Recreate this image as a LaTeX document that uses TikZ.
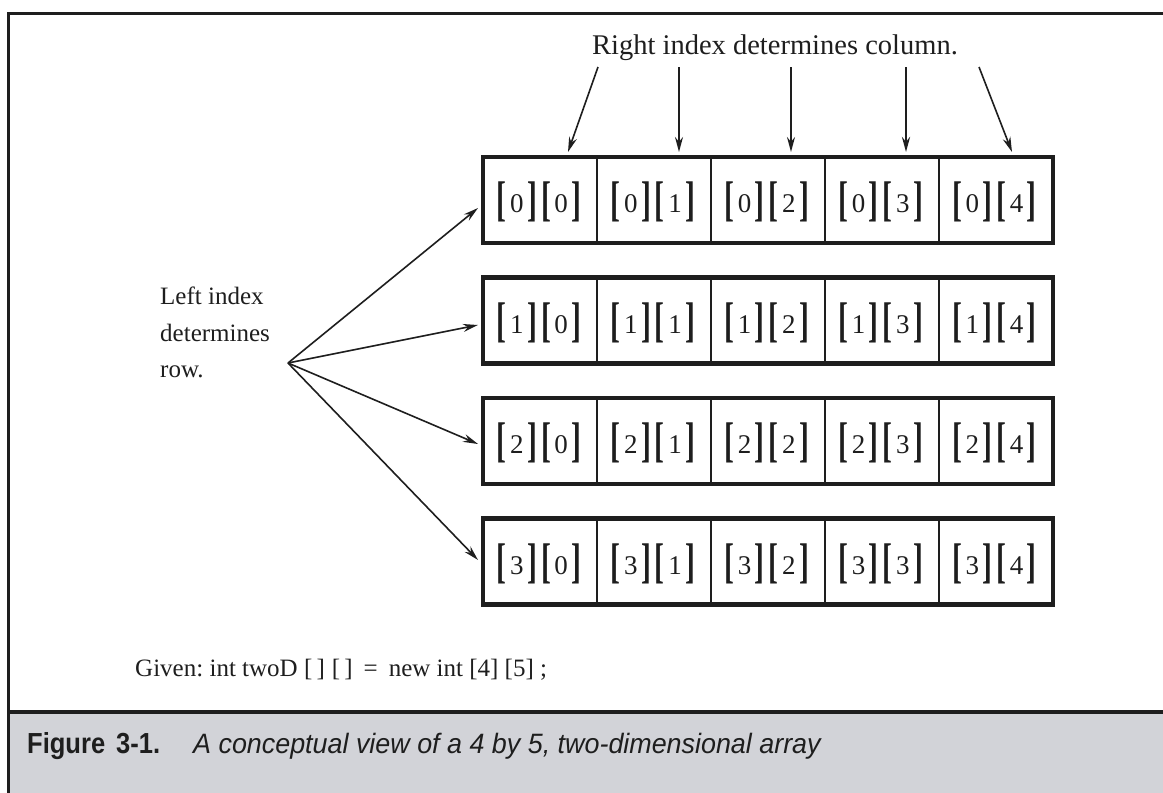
\documentclass[tikz,border=0pt]{standalone}
\usepackage{fontspec}
\setmainfont{Liberation Serif}
\newfontfamily\capfont{Liberation Sans}[FakeStretch=0.96]
\newfontfamily\capbold{Liberation Sans}[FakeStretch=0.88]
\usetikzlibrary{arrows.meta}
\definecolor{capgray}{RGB}{210,211,216}
\definecolor{ink}{RGB}{30,30,30}
\newcommand\bk[1]{\raisebox{-0.1em}{\scalebox{1.1}[1.8]{\bfseries #1}}}
\newcommand\ix[1]{\bk{[}\hspace{3.5pt}#1\hspace{3.5pt}\bk{]}}
\newcommand\pair[2]{\ix{#1}\hspace{4pt}\ix{#2}}
\tikzset{
  arr/.style={draw=ink, line width=1.6pt, -{Stealth[length=15pt,width=8pt]}},
  rowbox/.style={draw=ink, line width=4.5pt},
  divider/.style={draw=ink, line width=1.8pt},
  celltext/.style={font=\fontsize{27}{27}\selectfont, text=ink, inner sep=0pt},
  lbl/.style={font=\fontsize{25}{36.5}\selectfont, text=ink, inner sep=0pt},
}
\begin{document}
\begin{tikzpicture}[x=1pt,y=-1pt]
\useasboundingbox (0,0) rectangle (1163,793);
% caption band
\fill[capgray] (8,712) rectangle (1163,793);
\draw[ink, line width=4pt] (8,712) -- (1163,712);
\draw[ink, line width=3pt] (8,793) -- (8,13) -- (1163,13);
% rows
\foreach \r in {0,1,2,3}{
  \pgfmathsetmacro{\yt}{157+120.5*\r}
  \pgfmathsetmacro{\yb}{\yt+86}
  \foreach \c in {1,2,3,4}{
    \draw[divider] ({483+113.9*\c},\yt) -- ({483+113.9*\c},\yb);
  }
  \draw[rowbox] (483,\yt) rectangle (1053,\yb);
  \foreach \c in {0,1,2,3,4}{
    \node[celltext] (c\r\c) at ({483+113.9*\c+56},{\yt+45}) {\pair{\r}{\c}};
  }
}
% top label and arrows
\node[font=\fontsize{28.5}{28.5}\selectfont, text=ink, inner sep=0pt, anchor=base] (rt) at (775,54) {Right index determines column.};
\coordinate (t0) at (598,67); \coordinate (e0) at (568,152);
\coordinate (t1) at (679,67); \coordinate (e1) at (679,152);
\coordinate (t2) at (791,67); \coordinate (e2) at (791,152);
\coordinate (t3) at (906,67); \coordinate (e3) at (906,152);
\coordinate (t4) at (979,67); \coordinate (e4) at (1012,152);
\draw[arr] (t0) -- (e0);
\draw[arr] (t1) -- (e1);
\draw[arr] (t2) -- (e2);
\draw[arr, line width=2.6pt] (t3) -- (e3);
\draw[arr] (t4) -- (e4);
% left label and arrows
\node[lbl, anchor=north west, align=left] (li) at (160,287) {Left index\\determines\\row.};
\coordinate (j) at (288,363);
\coordinate (l0) at (478,208);
\coordinate (l1) at (478,325);
\coordinate (l2) at (478,444);
\coordinate (l3) at (478,560);
\foreach \k in {0,1,2,3}{ \draw[arr] (j) -- (l\k); }
% given line
\node[lbl, anchor=base west] (gv) at (135,676) {Given:\hspace{-2pt} int twoD [\,]\hspace{7pt}[\,]\hspace{11pt}=\hspace{11pt}new int [4] [5] ;};
% caption
\node[anchor=base west, inner sep=0pt, font=\capbold\fontsize{29}{29}\selectfont\bfseries, text=ink] (fig) at (27,753) {Figure\hspace{11pt}3-1.};
\node[anchor=base west, inner sep=0pt, font=\capfont\fontsize{28}{28}\selectfont\itshape, text=ink] (cap) at (193,753) {A conceptual view of a 4 by 5, two-dimensional array};
\end{tikzpicture}
\end{document}
